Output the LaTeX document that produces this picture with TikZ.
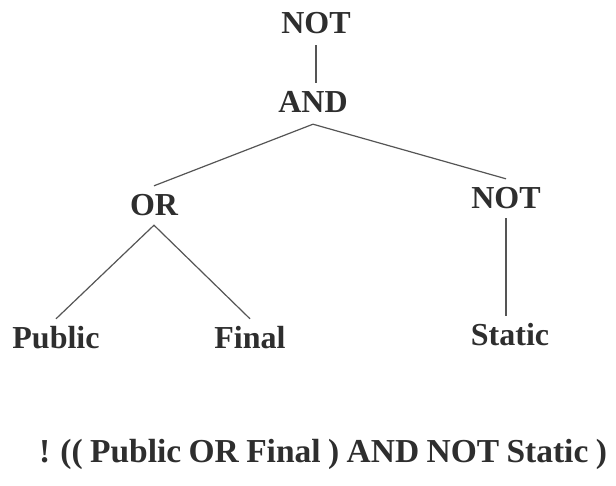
\documentclass[tikz,border=0pt]{standalone}
\usepackage{fontspec}
\setmainfont{Liberation Serif}
\definecolor{inkc}{HTML}{2E2E2E}
\definecolor{edgec}{HTML}{555555}
\begin{document}
\begin{tikzpicture}[x=1pt,y=-1pt,
  lbl/.style={font=\fontsize{32}{32}\selectfont\bfseries, text=inkc,
    inner xsep=0pt, inner ysep=8pt, text height=21pt, text depth=0pt, anchor=base},
  edge/.style={draw=edgec, line width=1.2pt}]
  \useasboundingbox[fill=white] (0,0) rectangle (616,485);

  % tree nodes
  \node[lbl] (top)    at (316,33)  {NOT};
  \node[lbl] (and)    at (313,112) {AND};
  \node[lbl] (or)     at (154,215) {OR};
  \node[lbl] (nt)     at (506,208) {NOT};
  \node[lbl] (pub)    at (56,348)  {Public};
  \node[lbl] (fin)    at (250,348) {Final};
  \node[lbl] (stat)   at (510,345) {Static};

  % expression written out
  \node[lbl, font=\fontsize{33.5}{33.5}\selectfont\bfseries]
    (expr) at (323,462) {\spaceskip=0.22em\relax ! (( Public OR Final ) AND NOT Static )};

  % branches
  \draw[edge] ([yshift=-4pt]top.south) -- (top.south |- and.north);
  \draw[edge] (or.north) -- ([yshift=-4pt]and.south) -- (nt.north);
  \draw[edge] (pub.north) -- ([yshift=-2pt]or.south) -- (fin.north);
  \draw[edge] ([yshift=-2pt]nt.south) -- (nt.south |- stat.north);
\end{tikzpicture}
\end{document}
